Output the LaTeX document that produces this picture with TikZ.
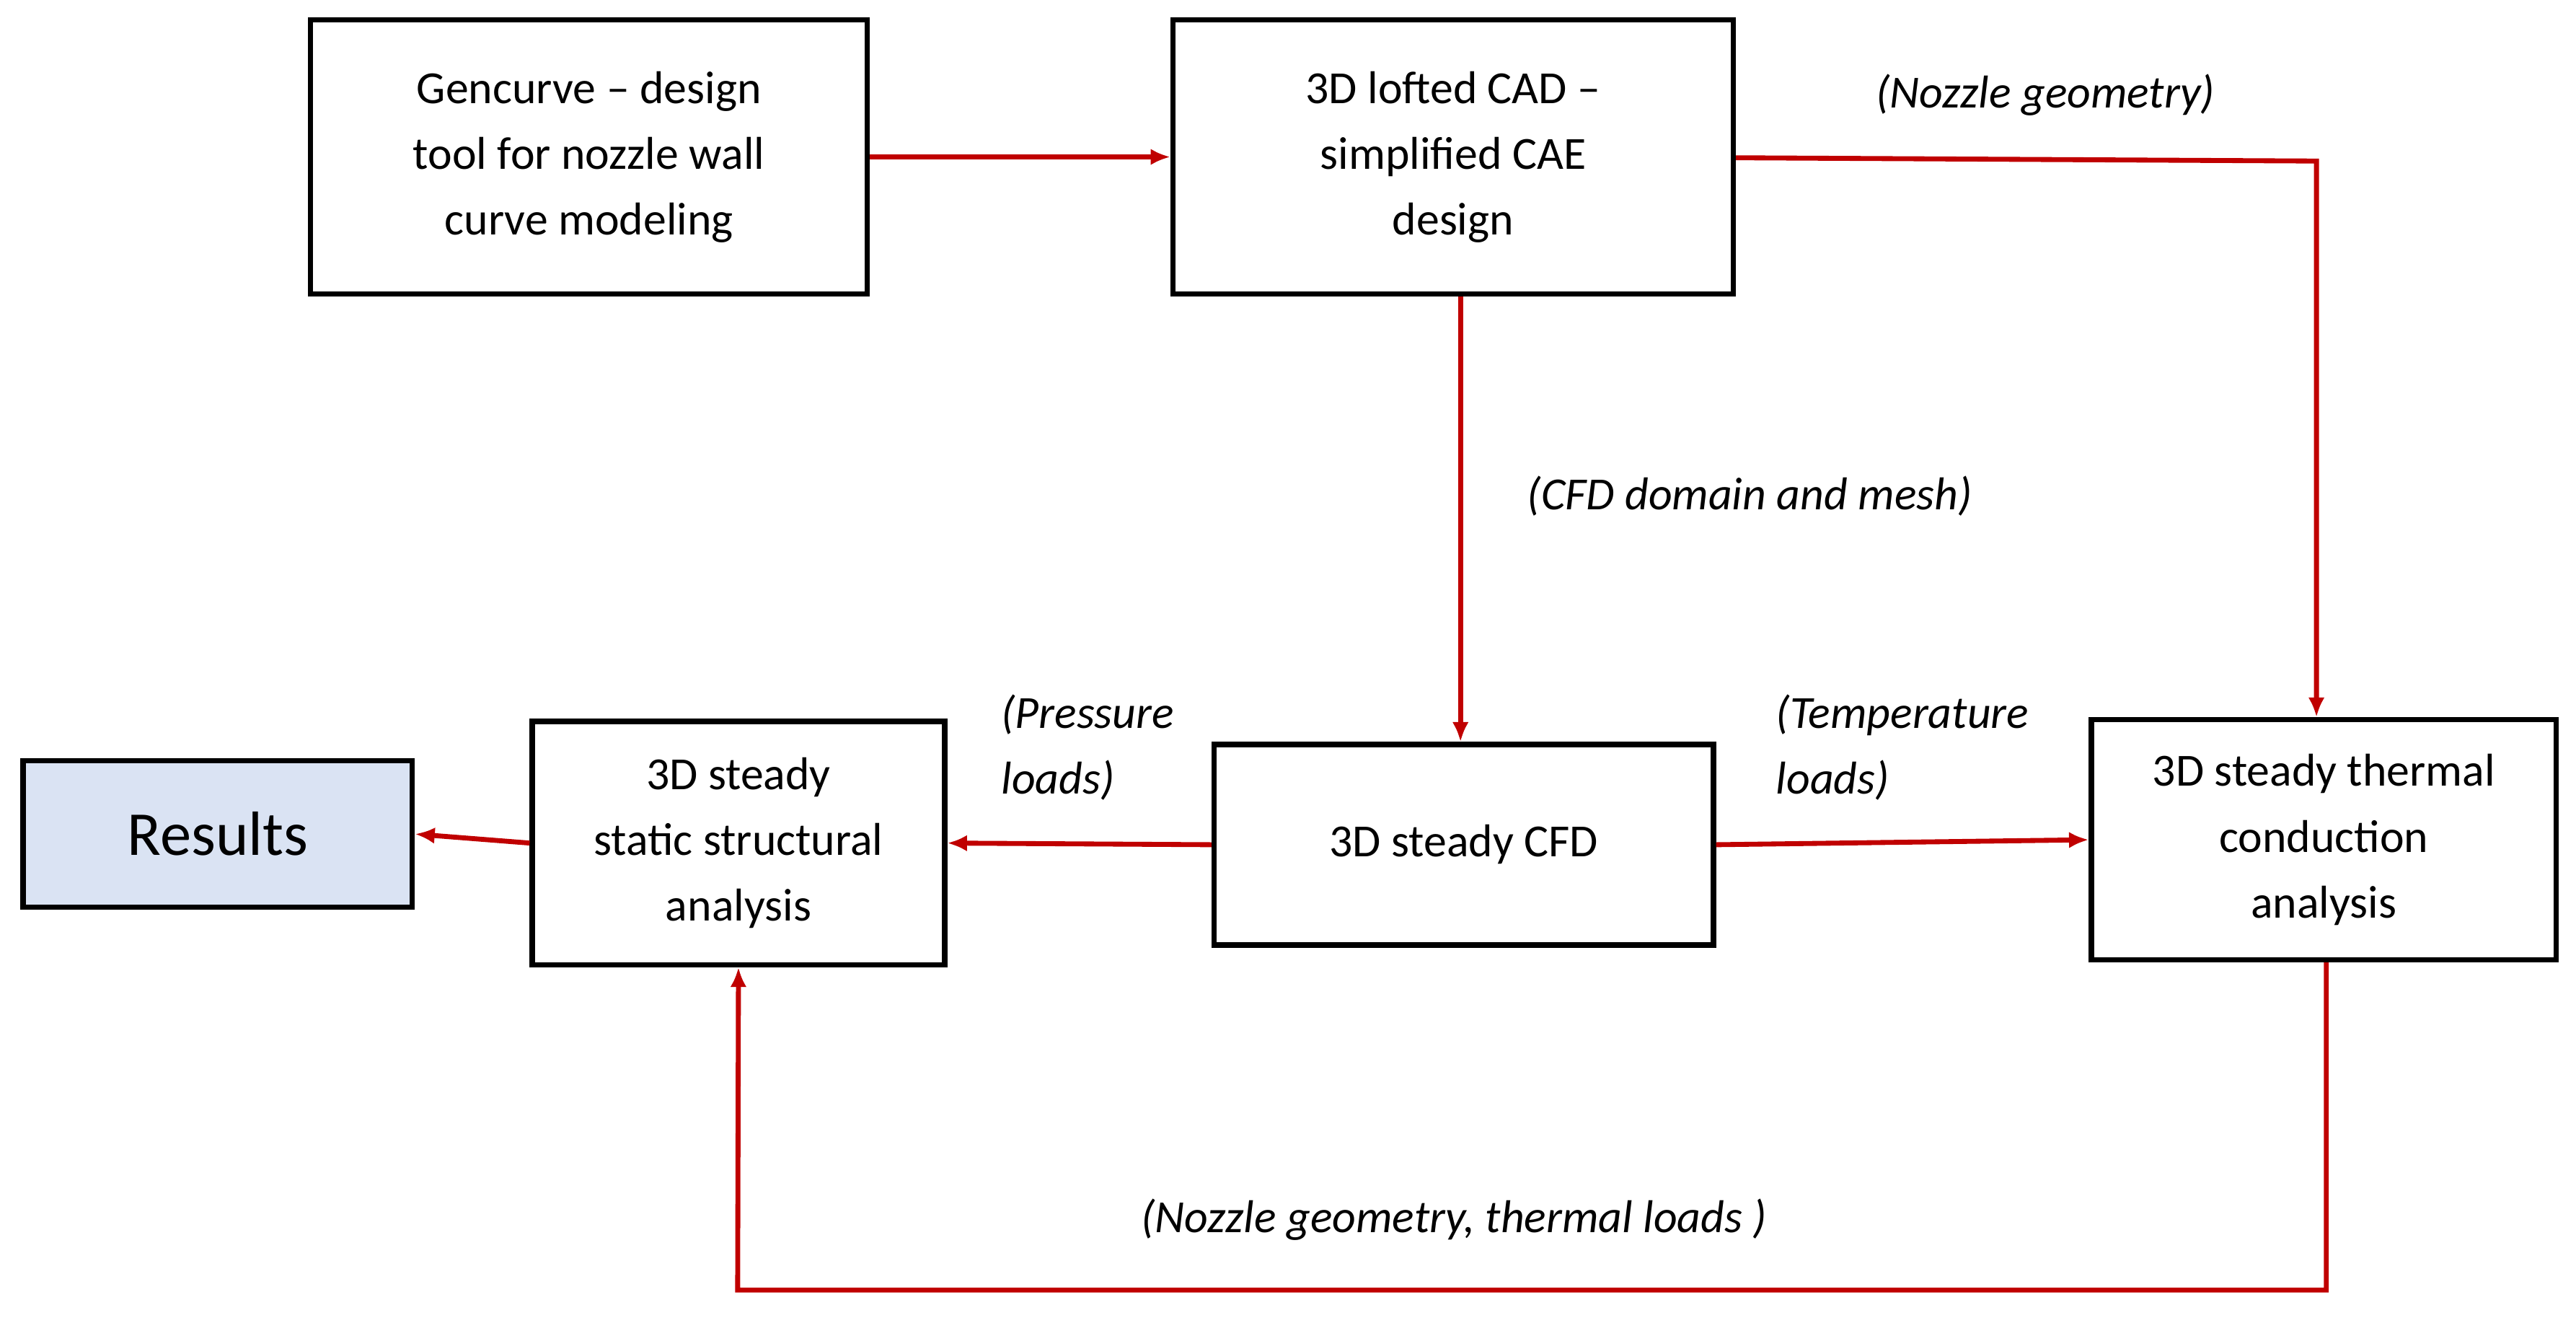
\documentclass[tikz,border=0pt]{standalone}
\usepackage{fontspec}
\setmainfont{Carlito}
\usetikzlibrary{arrows.meta}
\definecolor{ar}{HTML}{C00000}
\definecolor{rb}{HTML}{DAE3F3}
\begin{document}
\begin{tikzpicture}[x=0.5pt,y=-0.5pt,
  box/.style={draw=black,line width=1.6pt,align=center,inner sep=0pt,font=\fontsize{14}{20}\selectfont},
  con/.style={draw=ar,line width=1.5pt,-{Latex[length=6pt,width=5pt]}},
  lab/.style={font=\fontsize{14}{20}\selectfont\itshape,align=left}]
\useasboundingbox (0,0) rectangle (1568,802);
\node[box,minimum width=339pt*0.5,minimum height=167pt*0.5] (gen) at (358.5,95.5) {Gencurve -- design\\tool for nozzle wall\\curve modeling};
\node[box,minimum width=341pt*0.5,minimum height=167pt*0.5] (cad) at (884.5,95.5) {3D lofted CAD --\\simplified CAE\\design};
\node[box,fill=rb,minimum width=237pt*0.5,minimum height=89pt*0.5,font=\fontsize{19}{23}\selectfont] (res) at (132.5,507.5) {Results};
\node[box,minimum width=251pt*0.5,minimum height=148pt*0.5] (str) at (449.5,513) {3D steady\\static structural\\analysis};
\node[box,minimum width=304pt*0.5,minimum height=122pt*0.5] (cfd) at (891,514) {3D steady CFD};
\node[box,minimum width=283pt*0.5,minimum height=146pt*0.5] (thm) at (1414.5,511) {3D steady thermal\\conduction\\analysis};
\coordinate (c1) at (1410,98);
\coordinate (c2) at (1416,785);
\coordinate (c3) at (449,785);
\draw[con] (gen.east) -- (cad.west);
\draw[con] (cad.east |- 0,96) -- (c1) -- (thm.north -| c1);
\draw[con] (cad.south -| 889,0) -- (cfd.north -| 889,0);
\draw[con] (cfd.west) -- (str.east);
\draw[con] (cfd.east) -- (thm.west);
\draw[con] (thm.south -| c2) -- (c2) -- (c3) -- (str.south);
\draw[con] (str.west) -- (res.east);
\node[lab] at (1245,58) {(Nozzle geometry)};
\node[lab] at (1065,302) {(CFD domain and mesh)};
\node[lab] at (662,455) {(Pressure\\loads)};
\node[lab] at (1158,455) {(Temperature\\loads)};
\node[lab] at (885,742) {(Nozzle geometry, thermal loads )};
\end{tikzpicture}
\end{document}
